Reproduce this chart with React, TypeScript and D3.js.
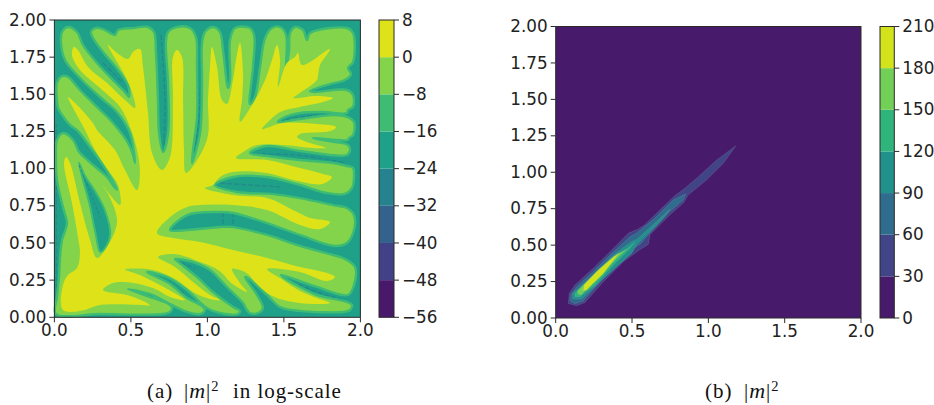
import React from "react";
import * as d3 from "d3";

type P = [number, number];

const xTickValues = [0, 0.5, 1, 1.5, 2];
const yTickValues = [0, 0.25, 0.5, 0.75, 1, 1.25, 1.5, 1.75, 2];
const logLevels = [-56, -48, -40, -32, -24, -16, -8, 0, 8];
const linLevels = [0, 30, 60, 90, 120, 150, 180, 210];
const logColors = ["#48186a", "#424086", "#33638d", "#26828e", "#1fa088", "#3fbc73", "#84d44b", "#dde318"];
const linColors = ["#481a6c", "#414487", "#2f6c8e", "#21918c", "#2fb47c", "#73d056", "#d2e21b"];

// region of log|m|^2 above -8 (traced in data units)
const logAboveMinus8: P[] = [
  [.010,.022],[.017,.137],[.030,.271],[.037,.406],[.050,.520],[.076,.601],[.082,.641],[.056,.742],[.017,.924],[.010,1.078],[.017,1.193],[.056,1.240],[.122,1.193],[.154,1.125],[.167,1.105],[.252,1.025],[.344,.944],[.396,.870],[.409,.860],
  [.318,1.025],[.233,1.146],[.154,1.253],[.102,1.294],[.050,1.361],[.024,1.408],[.017,1.461],[.017,1.576],[.050,1.623],[.089,1.617],[.167,1.529],[.278,1.415],[.383,1.307],[.481,1.173],[.514,1.092],[.527,1.038],
  [.494,1.240],[.409,1.381],[.298,1.482],[.167,1.610],[.069,1.731],[.043,1.845],[.050,1.919],[.089,1.953],[.148,1.919],[.187,1.832],[.278,1.711],[.383,1.596],[.461,1.515],[.488,1.482],[.481,1.563],[.416,1.664],[.318,1.785],[.252,1.879],[.239,1.919],[.265,1.946],[.318,1.939],[.396,1.899],[.416,1.933],[.514,1.946],[.612,1.953],[.651,1.919],[.664,1.778],[.677,1.461],[.684,1.240],[.710,1.112],
  [.743,1.240],[.743,1.576],[.729,1.845],[.743,1.919],[.802,1.953],[.886,1.946],[.925,1.886],[.932,1.684],[.932,1.347],[.906,1.125],[.899,1.038],[.952,1.240],[.965,1.576],[.965,1.845],[.984,1.919],[1.037,1.953],[1.082,1.919],[1.102,1.798],[1.135,1.543],[1.148,1.596],[1.148,1.865],[1.180,1.946],[1.278,1.946],[1.305,1.899],[1.298,1.684],[1.278,1.435],[1.311,1.482],[1.344,1.684],[1.377,1.879],[1.422,1.946],[1.475,1.953],[1.514,1.899],[1.514,1.684],[1.534,1.798],[1.540,1.912],[1.573,1.953],[1.625,1.933],[1.651,1.865],[1.671,1.912],[1.912,1.946],[1.952,1.912],[1.952,1.717],[1.919,1.677],[1.939,1.637],[1.899,1.596],[1.801,1.569],[1.671,1.522],[1.703,1.516],[1.912,1.529],[1.952,1.495],[1.952,1.415],[1.919,1.395],[1.912,1.374],[1.755,1.381],[1.605,1.374],[1.494,1.341],[1.461,1.314],[1.605,1.334],[1.821,1.361],[1.919,1.347],[1.958,1.314],[1.952,1.226],[1.925,1.206],[1.919,1.193],[1.690,1.206],[1.801,1.183],[1.919,1.159],[1.932,1.125],[1.912,1.092],[1.605,1.119],[1.390,1.152],[1.278,1.105],[1.390,1.085],[1.605,1.058],[1.821,1.038],[1.912,1.018],[1.952,1.004],[1.958,.944],[1.945,.870],[1.899,.830],[1.782,.836],[1.605,.890],[1.390,.944],[1.168,.944],[1.049,.890],[1.194,.843],[1.429,.829],[1.605,.802],[1.821,.755],[1.912,.735],[1.958,.688],[1.958,.587],[1.912,.500],[1.834,.480],[1.605,.554],[1.390,.634],[1.168,.702],[1.082,.708],[.867,.688],[.756,.587],[.867,.587],[1.082,.607],[1.168,.607],[1.390,.554],[1.605,.480],[1.821,.419],[1.886,.399],[1.965,.338],[1.958,.217],[1.919,.150],[1.716,.204],[1.605,.244],[1.481,.285],[1.494,.271],[1.605,.204],[1.716,.150],[1.912,.103],[1.945,.083],[1.932,.049],[1.886,.036],[1.605,.043],[1.475,.069],[1.390,.150],[1.265,.264],[1.246,.271],[1.324,.150],[1.363,.063],[1.331,.029],[1.278,.029],[1.259,.049],[1.233,.096],[1.128,.204],[1.017,.318],[.906,.372],[.788,.392],[.801,.379],[.932,.271],[1.037,.170],[1.168,.069],[1.213,.042],[1.200,.022],[1.115,.022],[.997,.062],[.867,.184],[.736,.271],[.605,.305],[.756,.224],[.867,.130],[.965,.076],[.984,.049],[.952,.022],[.867,.036],[.756,.089],[.644,.150],[.481,.190],[.644,.130],[.736,.096],[.769,.063],[.756,.036],[.710,.022],[.298,.022],
];

// region of log|m|^2 above 0
const logAboveZero: P[] = [
  [.056,.049],[.056,.217],[.089,.285],[.148,.332],[.167,.432],[.154,.540],[.115,.769],[.063,1.038],[.076,1.078],[.102,1.038],[.167,.769],[.233,.520],[.278,.399],[.363,.507],[.409,.634],[.396,.722],[.344,.843],[.318,.883],[.429,.755],[.416,.890],[.350,.991],[.265,1.125],[.200,1.260],[.102,1.448],[.089,1.482],[.135,1.442],[.252,1.307],[.278,1.260],[.396,1.125],[.461,.991],[.540,.856],[.559,.971],[.540,1.125],[.494,1.280],[.429,1.415],[.298,1.542],[.167,1.664],[.115,1.765],[.128,1.818],[.154,1.798],[.220,1.684],[.344,1.576],[.461,1.461],[.527,1.408],[.507,1.516],[.448,1.650],[.350,1.832],[.409,1.778],[.481,1.738],[.514,1.785],[.559,1.805],[.579,1.684],[.612,1.374],[.638,1.105],[.703,.991],[.756,1.078],[.775,1.461],[.775,1.751],[.801,1.798],[.834,1.751],[.841,1.461],[.847,1.125],[.860,.971],[.997,1.193],[1.004,1.461],[1.017,1.684],[1.030,1.818],[1.063,1.684],[1.095,1.461],[1.128,1.435],[1.167,1.596],[1.187,1.731],[1.213,1.845],[1.233,1.644],[1.226,1.461],[1.213,1.314],[1.311,1.461],[1.377,1.596],[1.422,1.731],[1.455,1.832],[1.475,1.731],[1.461,1.549],[1.520,1.711],[1.573,1.751],[1.592,1.778],[1.618,1.697],[1.801,1.805],[1.736,1.697],[1.723,1.630],[1.716,1.596],[1.586,1.496],[1.560,1.475],[1.716,1.489],[1.821,1.475],[1.755,1.448],[1.605,1.415],[1.475,1.381],[1.390,1.307],[1.357,1.267],[1.494,1.307],[1.716,1.300],[1.841,1.280],[1.801,1.253],[1.605,1.233],[1.586,1.213],[1.651,1.179],[1.775,1.139],[1.690,1.139],[1.494,1.159],[1.324,1.159],[1.233,1.112],[1.187,1.072],[1.390,1.058],[1.605,1.004],[1.755,.964],[1.814,.944],[1.755,.897],[1.560,.924],[1.390,.971],[1.168,.977],[1.082,.944],[1.037,.890],[.984,.870],[1.168,.823],[1.390,.802],[1.586,.708],[1.671,.668],[1.801,.641],[1.736,.594],[1.605,.621],[1.390,.722],[1.168,.755],[.952,.755],[.867,.742],[.756,.675],[.670,.567],[.775,.533],[.952,.507],[1.168,.453],[1.390,.399],[1.605,.338],[1.782,.298],[1.834,.271],[1.782,.244],[1.605,.305],[1.390,.325],[1.475,.264],[1.605,.177],[1.716,.130],[1.801,.096],[1.690,.089],[1.560,.103],[1.455,.130],[1.390,.163],[1.311,.237],[1.265,.291],[1.213,.318],[1.161,.325],[1.213,.231],[1.259,.170],[1.148,.237],[1.102,.291],[1.037,.338],[.952,.372],[.788,.426],[.677,.406],[.788,.338],[.906,.237],[1.017,.150],[1.082,.116],[1.017,.123],[.906,.170],[.801,.251],[.644,.318],[.461,.322],[.559,.285],[.690,.217],[.853,.116],[.756,.137],[.644,.197],[.514,.231],[.383,.231],[.318,.184],[.474,.150],[.605,.096],[.625,.076],[.605,.079],[.298,.083],[.233,.062],[.200,.049],
];

// closed teal island (below -16) inside the green region, lower left
const logIsland: P[] = [
  [.161,1.040],[.200,.950],[.265,.850],[.330,.720],[.365,.560],[.340,.480],[.300,.440],[.270,.560],[.230,.760],[.180,.950],
];

// thin pockets below -24
const logPockets: P[][] = [
  [[.697,1.898],[.723,1.461],[.716,1.159]],
  [[.919,1.845],[.945,1.374],[.906,1.078]],
  [[.318,1.711],[.448,1.576]],
  [[.161,1.025],[.298,.675]],
  [[1.082,.903],[1.475,.877]],
  [[1.102,.708],[1.102,.607]],
  [[1.168,.708],[1.168,.607]],
  [[1.47,1.32],[1.70,1.36],[1.91,1.36]],
  [[1.31,1.10],[1.6,1.09],[1.9,1.04]],
  [[1.51,.257],[1.72,.17],[1.90,.11]],
  [[.50,.18],[.70,.11]],
  [[.62,.30],[.85,.16]],
  [[.012,.10],[.012,.60],[.012,1.30]],
  [[.78,.385],[.92,.33]],
];

const lin30: P[] = [[.083,.100],[.089,.169],[.126,.226],[.246,.341],[.356,.455],[.476,.581],[.541,.611],[.585,.641],[.662,.720],[.782,.841],[.847,.891],[.924,.959],[1.055,1.084],[1.179,1.180],[1.098,1.061],[.989,.948],[.869,.845],[.836,.789],[.749,.709],[.618,.573],[.607,.505],[.552,.470],[.443,.386],[.312,.249],[.192,.107],[.137,.084]];
const lin60: P[] = [[.094,.116],[.100,.162],[.137,.215],[.257,.329],[.366,.443],[.487,.558],[.531,.584],[.640,.675],[.771,.811],[.852,.852],[.836,.811],[.738,.720],[.618,.584],[.552,.505],[.508,.478],[.421,.386],[.290,.249],[.181,.116],[.126,.098]];
const lin90: P[] = [[.111,.130],[.111,.169],[.148,.203],[.268,.318],[.377,.432],[.497,.524],[.531,.539],[.640,.641],[.749,.748],[.705,.686],[.596,.573],[.531,.505],[.497,.443],[.399,.352],[.268,.226],[.170,.130]];
const lin120: P[] = [[.126,.146],[.126,.169],[.159,.199],[.279,.306],[.388,.409],[.519,.519],[.476,.466],[.388,.375],[.257,.226],[.159,.146]];
const lin150: P[] = [[.148,.162],[.142,.185],[.181,.226],[.290,.341],[.377,.421],[.465,.473],[.388,.398],[.290,.283],[.203,.203],[.170,.162]];
const lin180: P[] = [[.181,.185],[.185,.226],[.268,.318],[.356,.398],[.417,.450],[.388,.409],[.312,.306],[.235,.226],[.203,.192]];
const linRegions = [lin30, lin60, lin90, lin120, lin150, lin180];

const FONT = "DejaVu Sans";
const FS = 16.8;
const INK = "#222";
const SPINE = "#2b2b2b";
const CAPTION_FONT = "Liberation Serif";

const fmtMinus = (v: number) => String(v).replace("-", "\u2212");

function Axes({ x, y, xFmt, yFmt }: { x: d3.ScaleLinear<number, number>; y: d3.ScaleLinear<number, number>; xFmt: (v: number) => string; yFmt: (v: number) => string }) {
  const [x0, x1] = x.range();
  const [y0, y1] = y.range();
  return (
    <g style={{ fontFamily: FONT, fontSize: FS }} fill={INK}>
      <rect x={x0} y={y1} width={x1 - x0} height={y0 - y1} fill="none" stroke={SPINE} strokeWidth={1} />
      {xTickValues.map((v) => (
        <g key={v}>
          <line x1={x(v)} x2={x(v)} y1={y0} y2={y0 + 5} stroke={SPINE} />
          <text x={x(v)} y={y0 + 18.5} textAnchor="middle">{xFmt(v)}</text>
        </g>
      ))}
      {yTickValues.map((v) => (
        <g key={v}>
          <line x1={x0 - 5} x2={x0} y1={y(v)} y2={y(v)} stroke={SPINE} />
          <text x={x0 - 8} y={y(v) + 5.6} textAnchor="end">{yFmt(v)}</text>
        </g>
      ))}
    </g>
  );
}

function Colorbar({ left, width, top, bottom, levels, colors }: { left: number; width: number; top: number; bottom: number; levels: number[]; colors: string[] }) {
  const s = d3.scaleLinear().domain([levels[0], levels[levels.length - 1]]).range([bottom, top]);
  return (
    <g style={{ fontFamily: FONT, fontSize: FS }} fill={INK}>
      {colors.map((c, i) => (
        <rect key={i} x={left} width={width} y={s(levels[i + 1])} height={s(levels[i]) - s(levels[i + 1])} fill={c} />
      ))}
      <rect x={left} y={top} width={width} height={bottom - top} fill="none" stroke={SPINE} />
      {levels.map((v) => (
        <g key={v}>
          <line x1={left + width} x2={left + width + 5} y1={s(v)} y2={s(v)} stroke={SPINE} />
          <text x={left + width + 8} y={s(v) + 5.6}>{fmtMinus(v)}</text>
        </g>
      ))}
    </g>
  );
}

function Caption({ x, label, mx, restX, rest }: { x: number; label: string; mx: number; restX?: number; rest?: string }) {
  return (
    <g style={{ fontFamily: CAPTION_FONT, fontSize: 21, letterSpacing: 0.95 }} fill="#111">
      <text x={x} y={398}>{label}</text>
      <text x={mx} y={398}>|<tspan fontStyle="italic" style={{ fontSize: 22 }}>m</tspan>|<tspan dy={-7.5} style={{ fontSize: 14.5 }}>2</tspan></text>
      {rest ? <text x={restX} y={398}>{rest}</text> : null}
    </g>
  );
}

export default function App() {
  const xL = d3.scaleLinear().domain([0, 2]).range([54.4, 360.4]);
  const yL = d3.scaleLinear().domain([0, 2]).range([317.3, 20]);
  const xR = d3.scaleLinear().domain([0, 2]).range([555.7, 861]);
  const yR = d3.scaleLinear().domain([0, 2]).range([318, 26.5]);

  const curveL = d3.line<P>().x((d) => xL(d[0])).y((d) => yL(d[1])).curve(d3.curveCatmullRomClosed.alpha(0.5));
  const openL = d3.line<P>().x((d) => xL(d[0])).y((d) => yL(d[1])).curve(d3.curveCatmullRom.alpha(0.5));
  const polyR = d3.line<P>().x((d) => xR(d[0])).y((d) => yR(d[1])).curve(d3.curveLinearClosed);

  return (
    <svg width={934} height={405} style={{ position: "absolute", left: 0, top: 0, background: "#fff" }}>
      <rect x={xL(0)} y={yL(2)} width={xL(2) - xL(0)} height={yL(0) - yL(2)} fill={logColors[4]} />
      {logPockets.map((p, i) => (
        <path key={i} d={openL(p) ?? ""} fill="none" stroke={logColors[3]} strokeWidth={1.3} strokeOpacity={0.75} strokeDasharray="5 2" />
      ))}
      <path d={curveL(logAboveMinus8) ?? ""} fill={logColors[6]} stroke={logColors[5]} strokeWidth={2.4} strokeLinejoin="round" />
      <path d={curveL(logIsland) ?? ""} fill={logColors[4]} stroke={logColors[5]} strokeWidth={2} />
      <path d={curveL(logAboveZero) ?? ""} fill={logColors[7]} />
      <path d={openL(logPockets[3]) ?? ""} fill="none" stroke={logColors[3]} strokeWidth={1.2} strokeOpacity={0.7} strokeDasharray="3 2" />
      <Axes x={xL} y={yL} xFmt={d3.format(".1f")} yFmt={d3.format(".2f")} />
      <Colorbar left={379} width={15} top={20} bottom={317.3} levels={logLevels} colors={logColors} />

      <rect x={xR(0)} y={yR(2)} width={xR(2) - xR(0)} height={yR(0) - yR(2)} fill={linColors[0]} />
      {linRegions.map((r, i) => (
        <path key={i} d={polyR(r) ?? ""} fill={linColors[i + 1]} stroke="#9fb8b0" strokeOpacity={0.3} strokeWidth={0.6} />
      ))}
      <Axes x={xR} y={yR} xFmt={d3.format(".1f")} yFmt={d3.format(".2f")} />
      <Colorbar left={880} width={14.3} top={26.5} bottom={318} levels={linLevels} colors={linColors} />

      <Caption x={147} label="(a)" mx={184} restX={233} rest="in log-scale" />
      <Caption x={705} label="(b)" mx={744} />
    </svg>
  );
}
